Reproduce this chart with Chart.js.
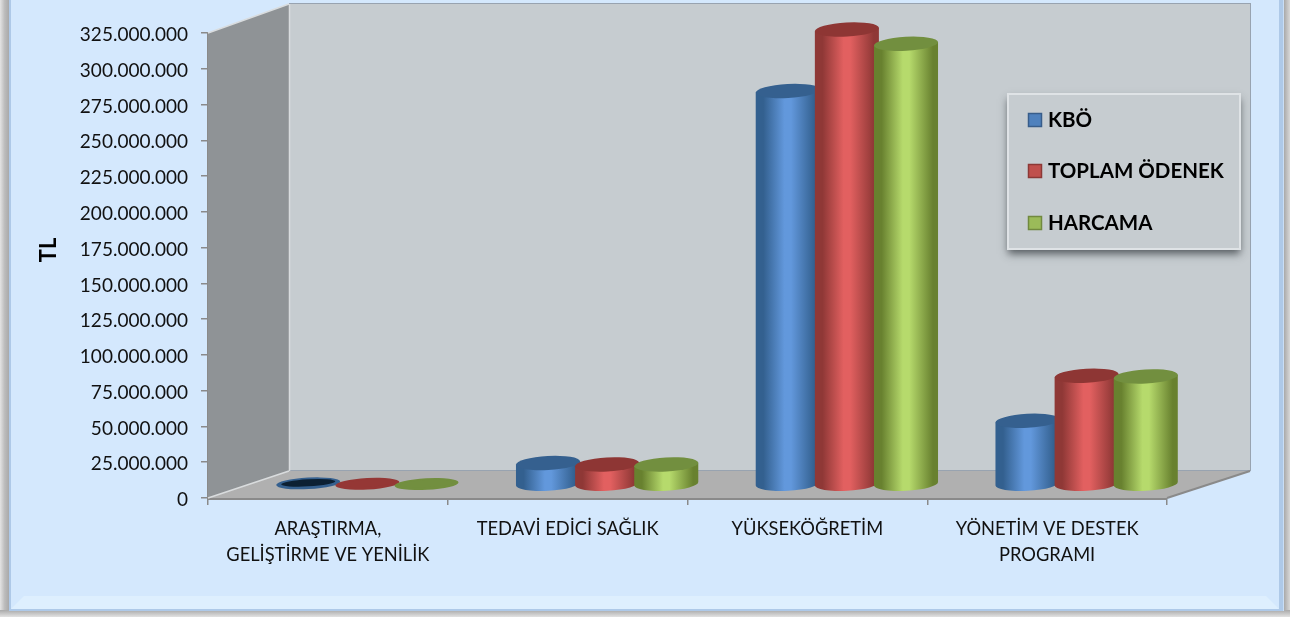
<!DOCTYPE html>
<html lang="tr">
<head>
<meta charset="utf-8">
<title>Program bazında harcama</title>
<script src="https://cdn.jsdelivr.net/npm/chart.js@4"></script>
<style>
  html, body { margin: 0; padding: 0; background: #d4e8fd; }
  canvas { display: block; }
</style>
</head>
<body>
<canvas id="chart" width="1290" height="617"></canvas>
<script>
// veriler
const categories = [
  ['ARAŞTIRMA,', 'GELİŞTİRME VE YENİLİK'],
  'TEDAVİ EDİCİ SAĞLIK',
  'YÜKSEKÖĞRETİM',
  ['YÖNETİM VE DESTEK', 'PROGRAMI']
];
const seriesNames = ['KBÖ', 'TOPLAM ÖDENEK', 'HARCAMA'];
const kbo = [800000, 15000000, 275000000, 44500000];
const toplamOdenek = [500000, 14000000, 318000000, 76000000];
const harcama = [300000, 14000000, 308000000, 75500000];
const axisTitle = 'TL';

const FONT = 'Lato, Carlito, Calibri, sans-serif';

// silindir renkleri
const palette = [
  { edge: '#33608f', mid: '#6298dc', top: '#35608f', rim: '#35608f', flat: '#0c2033', swatch: '#4f81bd', swatchLine: '#385d8a' },
  { edge: '#8f3836', mid: '#e26060', top: '#8e3634', rim: '#953735', flat: '#953735', swatch: '#c0504d', swatchLine: '#8c3836' },
  { edge: '#68812f', mid: '#b6da6c', top: '#728f3f', rim: '#728f3f', flat: '#728f3f', swatch: '#9bbb59', swatchLine: '#71893f' }
];

// 3B duvarlar icin derinlik
const DEPTH_X = 81;
const DEPTH_Y = 27;

function drawFrame(ctx, w, h) {
  ctx.save();
  // dis golge
  ctx.fillStyle = '#ffffff';
  ctx.fillRect(0, 0, w, h);
  let g = ctx.createLinearGradient(0, 0, 9, 0);
  g.addColorStop(0, '#e4e4e4');
  g.addColorStop(0.5, '#bdbdbd');
  g.addColorStop(1, '#a9a9a9');
  ctx.fillStyle = g;
  ctx.fillRect(0, 0, 9, h);
  g = ctx.createLinearGradient(w - 6, 0, w, 0);
  g.addColorStop(0, '#a9a9a9');
  g.addColorStop(1, '#d8d8d8');
  ctx.fillStyle = g;
  ctx.fillRect(w - 6, 0, 6, h);
  g = ctx.createLinearGradient(0, h - 7, 0, h);
  g.addColorStop(0, '#a9a9a9');
  g.addColorStop(1, '#e2e2e2');
  ctx.fillStyle = g;
  ctx.fillRect(0, h - 7, w, 7);
  // mavi govde
  ctx.fillStyle = '#aec9e8';
  ctx.fillRect(9, 0, w - 15, h - 6);
  ctx.fillStyle = '#d4e8fd';
  ctx.fillRect(11, 0, w - 22, h - 8);
  // sag serit
  ctx.fillStyle = '#c9def5';
  ctx.fillRect(w - 7, 0, 1, h - 6);
  // alt pah
  ctx.fillStyle = '#deeffe';
  ctx.beginPath();
  ctx.moveTo(11, h - 8);
  ctx.lineTo(24, h - 21);
  ctx.lineTo(w - 24, h - 21);
  ctx.lineTo(w - 11, h - 8);
  ctx.closePath();
  ctx.fill();
  ctx.restore();
}

function drawWalls(ctx, area) {
  const l = area.left, r = area.right, t = area.top, b = area.bottom;
  ctx.save();
  // arka duvar
  ctx.fillStyle = '#c6ccd0';
  ctx.fillRect(l + DEPTH_X, t - DEPTH_Y - 2, r - l + 2, b - t + 2);
  ctx.strokeStyle = '#98a3b0';
  ctx.lineWidth = 1;
  ctx.strokeRect(l + DEPTH_X + 0.5, t - DEPTH_Y - 2.5, r - l + 2, b - t + 2);
  // sol duvar
  ctx.fillStyle = '#8f9396';
  ctx.beginPath();
  ctx.moveTo(l, t);
  ctx.lineTo(l + DEPTH_X, t - DEPTH_Y - 2);
  ctx.lineTo(l + DEPTH_X, b - DEPTH_Y);
  ctx.lineTo(l, b);
  ctx.closePath();
  ctx.fill();
  // taban
  ctx.fillStyle = '#b0b0b0';
  ctx.beginPath();
  ctx.moveTo(l, b);
  ctx.lineTo(l + DEPTH_X, b - DEPTH_Y);
  ctx.lineTo(r + DEPTH_X + 2, b - DEPTH_Y);
  ctx.lineTo(r, b);
  ctx.closePath();
  ctx.fill();
  // kenarlar
  ctx.strokeStyle = '#d9dcde';
  ctx.lineWidth = 1.5;
  ctx.beginPath();
  ctx.moveTo(l, t);
  ctx.lineTo(l + DEPTH_X, t - DEPTH_Y - 2);
  ctx.moveTo(l, b);
  ctx.lineTo(l + DEPTH_X, b - DEPTH_Y);
  ctx.moveTo(l + DEPTH_X + 0.5, t - DEPTH_Y - 2);
  ctx.lineTo(l + DEPTH_X + 0.5, b - DEPTH_Y);
  ctx.stroke();
  ctx.strokeStyle = '#8a8a8a';
  ctx.lineWidth = 2;
  ctx.beginPath();
  ctx.moveTo(r, b);
  ctx.lineTo(r + DEPTH_X + 2, b - DEPTH_Y);
  ctx.stroke();
  ctx.restore();
}

function drawCylinder(ctx, bar, c, rx, ry, isFlat) {
  const cx = bar.x + DEPTH_X / 2 - 1;
  const yTop = bar.y - DEPTH_Y / 2;
  const yBase = bar.base - DEPTH_Y / 2;
  const tilt = -0.055;
  const dx = rx * Math.cos(tilt), dy = rx * Math.sin(tilt);
  ctx.save();
  if (isFlat) {
    ctx.fillStyle = c.rim;
    ctx.beginPath();
    ctx.ellipse(cx, yTop, rx, ry * 0.82, tilt, 0, Math.PI * 2);
    ctx.fill();
    ctx.fillStyle = c.flat;
    ctx.beginPath();
    ctx.ellipse(cx, yTop - 0.5, rx - 5, ry * 0.5, tilt, 0, Math.PI * 2);
    ctx.fill();
    ctx.restore();
    return;
  }
  // yan yuzey
  const g = ctx.createLinearGradient(cx - rx, 0, cx + rx, 0);
  g.addColorStop(0, c.edge);
  g.addColorStop(0.12, c.edge);
  g.addColorStop(0.45, c.mid);
  g.addColorStop(0.55, c.mid);
  g.addColorStop(0.92, c.edge);
  g.addColorStop(1, c.edge);
  ctx.fillStyle = g;
  ctx.beginPath();
  ctx.moveTo(cx - dx, yTop - dy);
  ctx.lineTo(cx - dx, yBase - dy);
  ctx.ellipse(cx, yBase, rx, ry, tilt, Math.PI, 0, true);
  ctx.lineTo(cx + dx, yTop + dy);
  ctx.closePath();
  ctx.fill();
  // ust yuzey
  ctx.fillStyle = c.top;
  ctx.beginPath();
  ctx.ellipse(cx, yTop, rx, ry, tilt, 0, Math.PI * 2);
  ctx.fill();
  ctx.restore();
}

function drawLegend(ctx, names) {
  const x = 1008, y = 94, w = 232, h = 155;
  const rows = [120, 171, 223];
  ctx.save();
  ctx.shadowColor = 'rgba(40,45,50,0.7)';
  ctx.shadowBlur = 8;
  ctx.shadowOffsetY = 5;
  ctx.fillStyle = '#c6ccd0';
  ctx.fillRect(x, y, w, h);
  ctx.restore();
  ctx.save();
  ctx.strokeStyle = '#dfe3e6';
  ctx.lineWidth = 2;
  ctx.strokeRect(x, y, w, h);
  ctx.font = 'bold 20.5px ' + FONT;
  ctx.textBaseline = 'middle';
  names.forEach((name, i) => {
    ctx.fillStyle = palette[i].swatch;
    ctx.strokeStyle = palette[i].swatchLine;
    ctx.lineWidth = 1.5;
    ctx.fillRect(x + 20.5, rows[i] - 6.5, 13, 13);
    ctx.strokeRect(x + 20.5, rows[i] - 6.5, 13, 13);
    ctx.fillStyle = '#000';
    ctx.fillText(name, x + 40, rows[i] + 0.5);
  });
  ctx.restore();
}

const scenePlugin = {
  id: 'scene',
  beforeDraw(chart) {
    drawFrame(chart.ctx, chart.width, chart.height);
    // Lato yaziyi biraz yukarida birakiyor
    chart.scales.y.getLabelItems(chart.chartArea).forEach(item => { item.textOffset += 2; });
  },
  beforeDatasetsDraw(chart) {
    drawWalls(chart.ctx, chart.chartArea);
  },
  // sutunlar silindir olarak cizilir
  beforeDatasetDraw() {
    return false;
  },
  afterDatasetsDraw(chart) {
    const ctx = chart.ctx;
    categories.forEach((cat, j) => {
      seriesNames.forEach((s, i) => {
        const bar = chart.getDatasetMeta(i).data[j];
        const flat = Math.abs(bar.base - bar.y) < 3;
        drawCylinder(ctx, bar, palette[i], bar.width / 2 + 2.5, 7, flat);
      });
    });
    drawLegend(ctx, seriesNames);
    ctx.save();
    ctx.translate(49, 250);
    ctx.rotate(-Math.PI / 2);
    ctx.font = 'bold 22px ' + FONT;
    ctx.fillStyle = '#000';
    ctx.textAlign = 'center';
    ctx.textBaseline = 'middle';
    ctx.fillText(axisTitle, 0, 0);
    ctx.restore();
  }
};

new Chart(document.getElementById('chart'), {
  type: 'bar',
  data: {
    labels: categories,
    datasets: [
      { label: seriesNames[0], data: kbo, backgroundColor: palette[0].swatch },
      { label: seriesNames[1], data: toplamOdenek, backgroundColor: palette[1].swatch },
      { label: seriesNames[2], data: harcama, backgroundColor: palette[2].swatch }
    ]
  },
  plugins: [scenePlugin],
  options: {
    responsive: false,
    animation: false,
    devicePixelRatio: 1,
    layout: { padding: { top: 33, right: 123, left: 0, bottom: 0 } },
    plugins: {
      legend: { display: false },
      title: { display: false },
      tooltip: { enabled: false }
    },
    datasets: { bar: { barPercentage: 1, categoryPercentage: 0.74 } },
    scales: {
      x: {
        afterFit: s => { s.height = 119; },
        grid: { drawOnChartArea: false, color: '#8a8a8a', tickLength: 7, lineWidth: 1.5 },
        border: { color: '#8a8a8a', width: 3 },
        ticks: {
          color: '#111', maxRotation: 0, autoSkip: false, padding: 11,
          font: { family: FONT, size: 18.3, lineHeight: 1.42 }
        }
      },
      y: {
        min: 0,
        max: 325000000,
        afterFit: s => { s.width = 208; },
        grid: { drawOnChartArea: false, color: '#8a8a8a', tickLength: 7, lineWidth: 1.5 },
        border: { color: '#8a8a8a', width: 2 },
        ticks: {
          stepSize: 25000000, color: '#111', padding: 13,
          font: { family: FONT, size: 19 },
          callback: v => v.toLocaleString('tr-TR')
        }
      }
    }
  }
});
</script>
</body>
</html>
